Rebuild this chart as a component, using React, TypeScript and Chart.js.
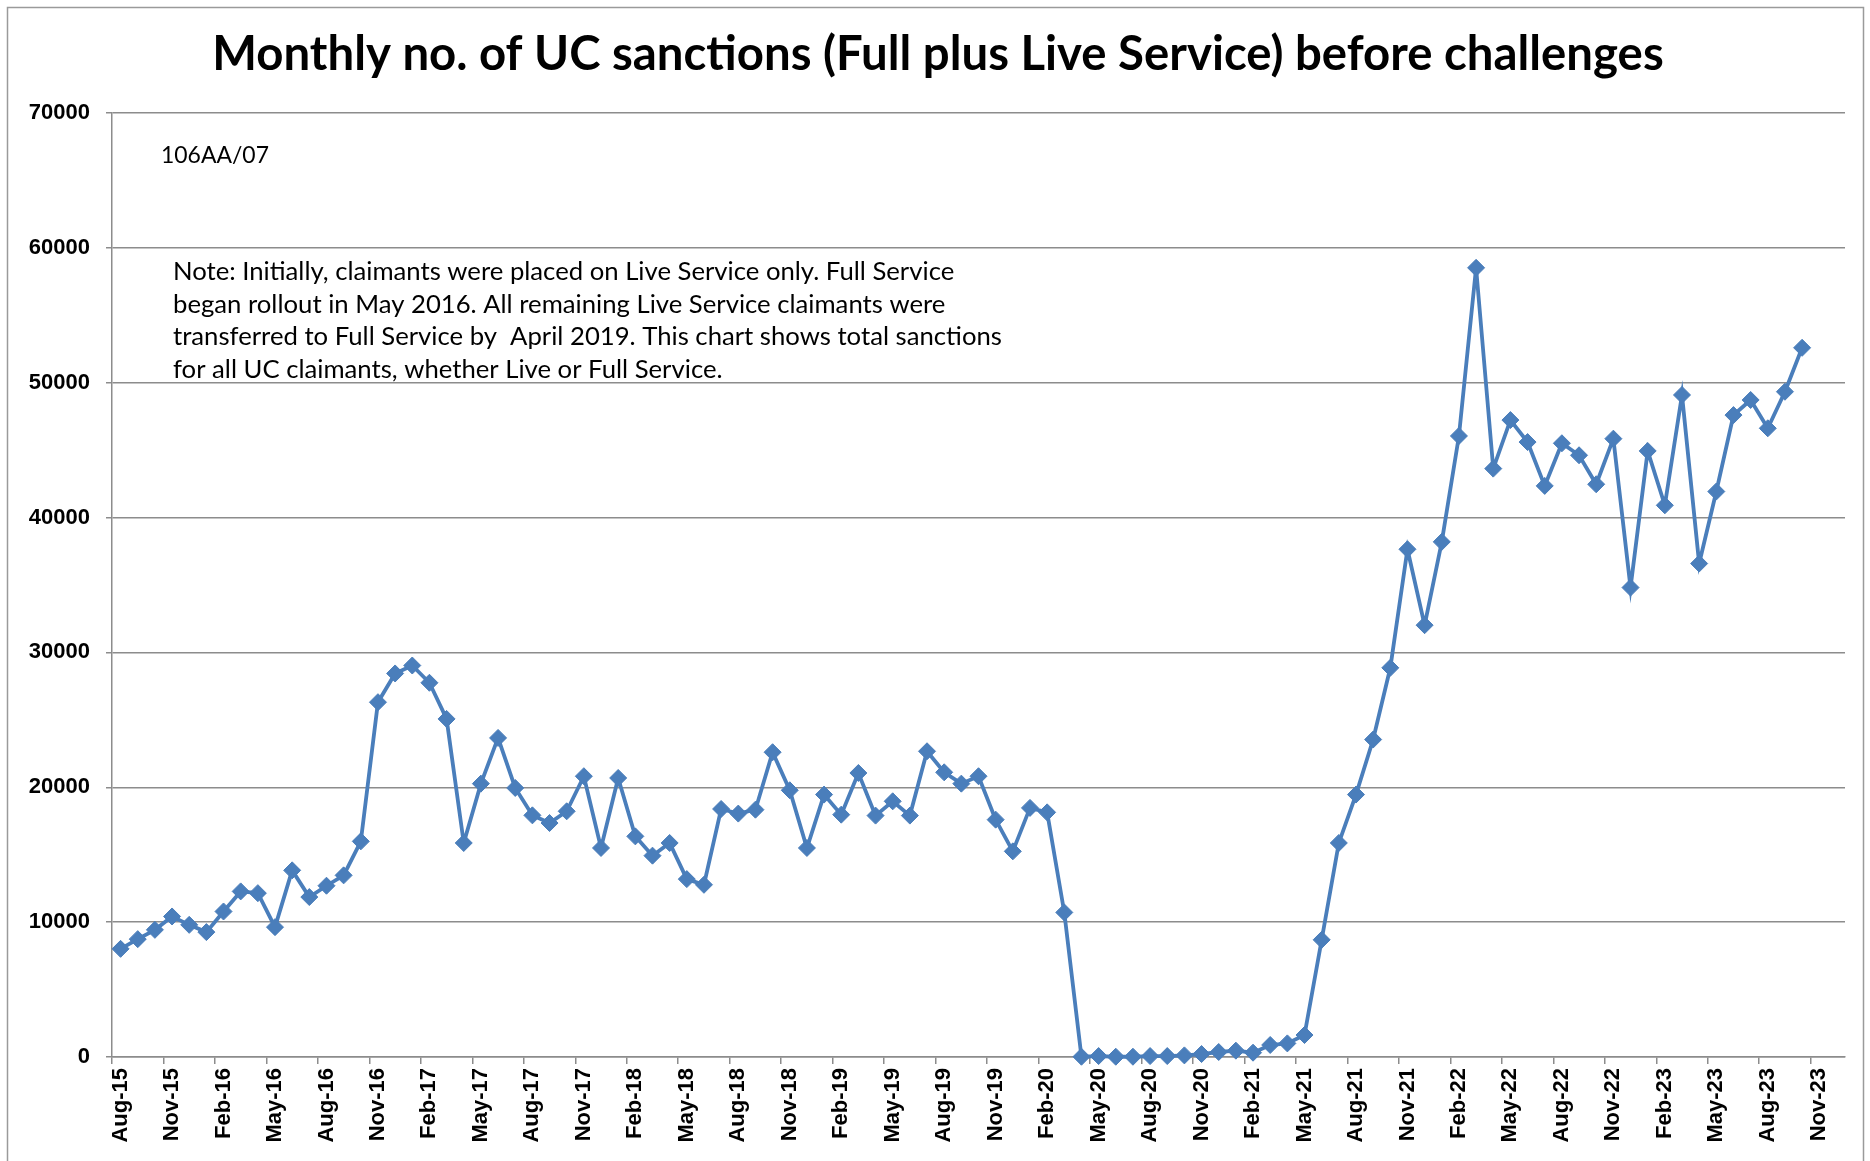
import React, { useEffect, useRef } from 'react';
import { Chart, registerables } from 'chart.js';

Chart.register(...registerables);

const categories = [
  'Aug-15', 'Sep-15', 'Oct-15', 'Nov-15', 'Dec-15',
  'Jan-16', 'Feb-16', 'Mar-16', 'Apr-16', 'May-16', 'Jun-16', 'Jul-16', 'Aug-16', 'Sep-16', 'Oct-16', 'Nov-16', 'Dec-16',
  'Jan-17', 'Feb-17', 'Mar-17', 'Apr-17', 'May-17', 'Jun-17', 'Jul-17', 'Aug-17', 'Sep-17', 'Oct-17', 'Nov-17', 'Dec-17',
  'Jan-18', 'Feb-18', 'Mar-18', 'Apr-18', 'May-18', 'Jun-18', 'Jul-18', 'Aug-18', 'Sep-18', 'Oct-18', 'Nov-18', 'Dec-18',
  'Jan-19', 'Feb-19', 'Mar-19', 'Apr-19', 'May-19', 'Jun-19', 'Jul-19', 'Aug-19', 'Sep-19', 'Oct-19', 'Nov-19', 'Dec-19',
  'Jan-20', 'Feb-20', 'Mar-20', 'Apr-20', 'May-20', 'Jun-20', 'Jul-20', 'Aug-20', 'Sep-20', 'Oct-20', 'Nov-20', 'Dec-20',
  'Jan-21', 'Feb-21', 'Mar-21', 'Apr-21', 'May-21', 'Jun-21', 'Jul-21', 'Aug-21', 'Sep-21', 'Oct-21', 'Nov-21', 'Dec-21',
  'Jan-22', 'Feb-22', 'Mar-22', 'Apr-22', 'May-22', 'Jun-22', 'Jul-22', 'Aug-22', 'Sep-22', 'Oct-22', 'Nov-22', 'Dec-22',
  'Jan-23', 'Feb-23', 'Mar-23', 'Apr-23', 'May-23', 'Jun-23', 'Jul-23', 'Aug-23', 'Sep-23', 'Oct-23', 'Nov-23', 'Dec-23',
];

const sanctions = [
  8020, 8740, 9430, 10420, 9800,
  9260, 10790, 12280, 12150, 9630, 13840, 11860, 12700, 13470, 15990, 26310, 28440,
  29030, 27750, 25070, 15870, 20270, 23660, 19950, 17920, 17350, 18220, 20820, 15500,
  20690, 16360, 14930, 15870, 13190, 12770, 18390, 18050, 18340, 22600, 19780, 15500,
  19460, 17970, 21060, 17900, 18960, 17900, 22670, 21110, 20270, 20820, 17600, 15250,
  18470, 18140, 10720, 20, 70, 20, 20, 70, 70, 120, 220, 370,
  470, 320, 890, 1010, 1630, 8690, 15870, 19460, 23540, 28860, 37650, 32020,
  38200, 46050, 58520, 43630, 47230, 45600, 42350, 45510, 44620, 42470, 45850, 34810,
  44940, 40910, 49090, 36590, 41930, 47600, 48720, 46620, 49330, 52590,
];

const labelEvery = 3;
const yMin = 0;
const yMax = 70000;
const yStep = 10000;

const titleText = 'Monthly no. of UC sanctions (Full plus Live Service) before challenges';
const refText = '106AA/07';
const noteLines = [
  'Note: Initially, claimants were placed on Live Service only. Full Service',
  'began rollout in May 2016. All remaining Live Service claimants were',
  'transferred to Full Service by  April 2019. This chart shows total sanctions',
  'for all UC claimants, whether Live or Full Service.',
];

const BLUE = '#4a7ebb';
const GRID = '#8c8c8c';
const TICK_FONT = "'Liberation Sans', Arial, sans-serif";

function fitSize(ctx: CanvasRenderingContext2D, text: string, weight: string, family: string, target: number) {
  ctx.font = `${weight} 100px ${family}`;
  const w = ctx.measureText(text).width;
  return (100 * target) / w;
}

const decor = {
  id: 'decor',
  beforeDraw(chart: any) {
    const { ctx } = chart;
    ctx.save();
    ctx.fillStyle = '#ffffff';
    ctx.fillRect(0, 0, chart.width, chart.height);
    ctx.strokeStyle = '#9a9a9a';
    ctx.lineWidth = 1.5;
    ctx.strokeRect(7.5, 7.5, 1856, 1250);
    ctx.restore();
  },
  afterDraw(chart: any) {
    const { ctx } = chart;
    ctx.save();
    ctx.fillStyle = '#000000';
    ctx.textBaseline = 'alphabetic';

    const ts = fitSize(ctx, titleText, 'bold', 'Lato', 1452);
    ctx.font = `bold ${ts}px Lato`;
    ctx.textAlign = 'center';
    ctx.fillText(titleText, 938, 70);

    ctx.textAlign = 'left';
    ctx.textBaseline = 'middle';
    const rs = fitSize(ctx, refText, 'normal', 'Lato', 108);
    ctx.font = `normal ${rs}px Lato`;
    ctx.fillText(refText, 161, 156);

    const ns = fitSize(ctx, noteLines[2], 'normal', 'Lato', 829);
    ctx.font = `normal ${ns}px Lato`;
    noteLines.forEach((line, i) => {
      ctx.fillText(line, 173, 272 + i * 32.6);
    });
    ctx.restore();
  },
};

export default function App() {
  const canvasRef = useRef<HTMLCanvasElement | null>(null);

  useEffect(() => {
    const canvas = canvasRef.current;
    if (!canvas) return;
    Chart.defaults.font.family = 'Lato';
    Chart.defaults.color = '#000000';

    const chart = new Chart(canvas, {
      type: 'line',
      data: {
        labels: categories,
        datasets: [
          {
            data: sanctions,
            borderColor: BLUE,
            backgroundColor: BLUE,
            borderWidth: 3.8,
            tension: 0,
            pointStyle: 'rectRot',
            pointRadius: 8.5,
            pointBorderWidth: 1,
            pointBorderColor: BLUE,
            pointBackgroundColor: BLUE,
            clip: false,
          } as any,
        ],
      },
      options: {
        responsive: false,
        animation: false,
        layout: { padding: { left: 0, top: 113, right: 25, bottom: 0 } },
        plugins: {
          legend: { display: false },
          title: { display: false },
          tooltip: { enabled: false },
        },
        scales: {
          x: {
            type: 'category',
            offset: true,
            afterFit: (scale: any) => {
              scale.height = 104;
            },
            grid: {
              offset: true,
              drawOnChartArea: false,
              drawTicks: true,
              tickLength: 7,
              lineWidth: 1.5,
              color: (c: any) => (c.index % labelEvery === 0 && c.index < categories.length ? GRID : 'rgba(0,0,0,0)'),
            },
            border: { display: true, color: GRID, width: 1.5 },
            ticks: {
              autoSkip: false,
              maxRotation: 90,
              minRotation: 90,
              padding: 4,
              font: { family: TICK_FONT, weight: 'bold', size: 22 },
              color: '#000000',
              callback: (_v: any, i: number) => (i % labelEvery === 0 ? categories[i] : ''),
            },
          },
          y: {
            min: yMin,
            max: yMax,
            afterFit: (scale: any) => {
              scale.width = 112;
            },
            grid: {
              color: GRID,
              lineWidth: 1.5,
              drawTicks: true,
              tickLength: 6,
            },
            border: { display: true, color: GRID, width: 1.5 },
            ticks: {
              stepSize: yStep,
              padding: 16,
              font: { family: TICK_FONT, weight: 'bold', size: 22 },
              color: '#000000',
              callback: (v: any) => String(v),
            },
          },
        },
      },
      plugins: [decor],
    });

    return () => {
      chart.destroy();
    };
  }, []);

  return (
    <div style={{ position: 'absolute', left: 0, top: 0, width: 1870, height: 1161, overflow: 'hidden', background: '#fff' }}>
      <canvas ref={canvasRef} width={1870} height={1161} style={{ display: 'block', width: 1870, height: 1161 }} />
    </div>
  );
}
